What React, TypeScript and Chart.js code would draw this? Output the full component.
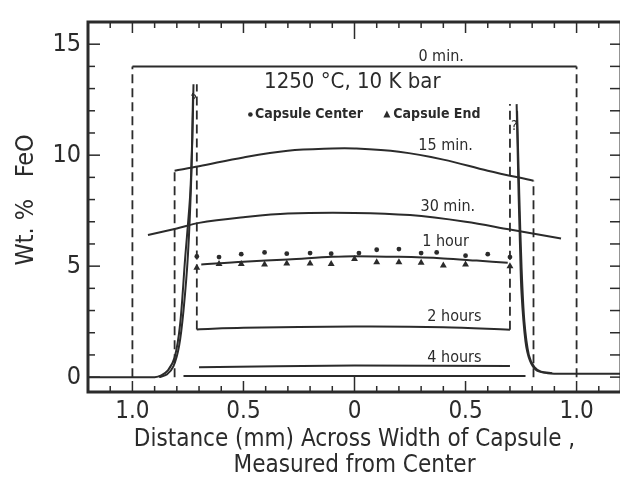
import React, { useEffect, useRef } from "react";
import { Chart, registerables } from "chart.js";

Chart.register(...registerables);

const FONT = '"Liberation Sans Narrow", "DejaVu Sans Condensed", "Liberation Sans", sans-serif';
const INK = "#2b2b2b";

// ---- axis ticks ----
const xTickValues = [-1, -0.5, 0, 0.5, 1];
const xTickLabels = ["1.0", "0.5", "0", "0.5", "1.0"];
const yTickValues = [0, 5, 10, 15];
const yTickLabels = ["0", "5", "10", "15"];

// ---- profiles (distance mm, wt.% FeO) ----
const zeroMinX = [-1, 1];
const zeroMinY = [14, 14];
const zeroMinEdgeX = [-1, 1];
const zeroMinEdgeTop = [14, 14];

const min15X = [-0.81, -0.7, -0.5, -0.3, -0.1, 0, 0.2, 0.4, 0.6, 0.806];
const min15Y = [9.3, 9.5, 9.9, 10.2, 10.3, 10.3, 10.15, 9.8, 9.3, 8.85];

const min30X = [-0.93, -0.8, -0.7, -0.5, -0.3, 0, 0.25, 0.5, 0.7, 0.93];
const min30Y = [6.4, 6.7, 6.95, 7.2, 7.37, 7.4, 7.3, 7.0, 6.65, 6.25];

const hour1X = [-0.69, -0.5, -0.3, -0.1, 0, 0.2, 0.4, 0.55, 0.69];
const hour1Y = [5.07, 5.2, 5.3, 5.42, 5.45, 5.42, 5.35, 5.25, 5.15];

const hour2X = [-0.71, -0.5, 0, 0.4, 0.7];
const hour2Y = [2.15, 2.22, 2.28, 2.25, 2.13];
const hour2EdgeX = [-0.71, 0.7];
const hour2EdgeTop = [13.2, 12.3];

const hour4X = [-0.7, 0, 0.7];
const hour4Y = [0.45, 0.52, 0.5];

const innerBaseX = [-0.77, 0.77];
const innerBaseY = [0.05, 0.05];

const leftSpikeX = [-1.2, -0.9, -0.87, -0.84, -0.81, -0.785, -0.763, -0.74, -0.73, -0.725];
const leftSpikeY = [0, 0, 0.08, 0.3, 0.88, 2.4, 5.3, 8.2, 10.8, 13.2];
const leftSpike2X = [-0.88, -0.845, -0.815, -0.79, -0.77, -0.75, -0.735, -0.727];
const leftSpike2Y = [0, 0.12, 0.5, 1.4, 3.0, 5.5, 9.0, 12.8];

const rightSpikeX = [0.73, 0.734, 0.739, 0.745, 0.752, 0.77, 0.79, 0.82, 0.87, 0.95, 1.2];
const rightSpikeY = [12.3, 10.5, 8.2, 6.0, 3.8, 1.6, 0.74, 0.3, 0.18, 0.15, 0.15];
const rightSpike2X = [0.732, 0.742, 0.752, 0.765, 0.785, 0.81, 0.84, 0.89];
const rightSpike2Y = [12.0, 8.2, 5.0, 2.5, 1.0, 0.45, 0.25, 0.18];

// ---- 1 hour measurements ----
const centerX = [-0.71, -0.61, -0.51, -0.405, -0.305, -0.2, -0.105, 0.02, 0.1, 0.2, 0.3, 0.37, 0.5, 0.6, 0.7];
const centerY = [5.44, 5.41, 5.54, 5.62, 5.56, 5.59, 5.56, 5.59, 5.74, 5.77, 5.59, 5.62, 5.47, 5.54, 5.41];
const endX = [-0.71, -0.61, -0.51, -0.405, -0.305, -0.2, -0.105, 0, 0.1, 0.2, 0.3, 0.4, 0.5, 0.7];
const endY = [4.93, 5.1, 5.1, 5.07, 5.12, 5.12, 5.1, 5.32, 5.18, 5.18, 5.15, 5.03, 5.07, 5.0];

// ---- text labels inside the plot ----
const labelTexts = ["1250 °C, 10 K bar", "0 min.", "15 min.", "30 min.", "1 hour", "2 hours", "4 hours", "?", "?"];
const labelX = [-0.01, 0.39, 0.41, 0.42, 0.41, 0.45, 0.45, -0.725, 0.72];
const labelY = [13.3, 14.45, 10.44, 7.65, 6.1, 2.72, 0.87, 12.45, 11.3];
const labelSize = [22, 16, 16, 16, 16, 16, 16, 14, 14];

const legendNames = ["Capsule Center", "Capsule End"];
const legendX = [-0.48, 0.13];
const legendY = [11.83, 11.83];

const pts = (xs: number[], ys: number[]) => xs.map((x, i) => ({ x, y: ys[i] }));

const solid = (xs: number[], ys: number[], tension = 0.35) => ({
  data: pts(xs, ys),
  showLine: true,
  borderColor: INK,
  borderWidth: 2,
  pointRadius: 0,
  tension,
  fill: false,
});

const dashedVerticals = (xs: number[], bottoms: number[], tops: number[]) =>
  xs.map((x, i) => ({
    data: [
      { x, y: bottoms[i] },
      { x, y: tops[i] },
    ],
    showLine: true,
    borderColor: INK,
    borderWidth: 1.8,
    borderDash: [9, 5],
    pointRadius: 0,
    tension: 0,
    fill: false,
  }));

const framePlugin = {
  id: "frame",
  afterDraw(chart: any) {
    const { ctx, chartArea: a, scales } = chart;
    const xs = scales.x;
    const ys = scales.y;
    ctx.save();
    ctx.strokeStyle = INK;
    ctx.lineCap = "butt";
    ctx.lineWidth = 3;
    ctx.beginPath();
    ctx.moveTo(a.left, a.bottom);
    ctx.lineTo(a.left, a.top);
    ctx.lineTo(a.right, a.top);
    ctx.lineTo(a.right, a.bottom);
    ctx.closePath();
    ctx.stroke();
    ctx.lineWidth = 1.5;
    const seg = (x1: number, y1: number, x2: number, y2: number) => {
      ctx.beginPath();
      ctx.moveTo(x1, y1);
      ctx.lineTo(x2, y2);
      ctx.stroke();
    };
    for (let i = -12; i <= 12; i++) {
      const px = xs.getPixelForValue(i / 10);
      const len = i === 0 ? 17 : i % 5 === 0 ? 11 : 6;
      seg(px, a.top, px, a.top + len);
      seg(px, a.bottom, px, a.bottom - len);
    }
    for (let v = 0; v <= 16; v++) {
      const py = ys.getPixelForValue(v);
      const len = v % 5 === 0 ? 12 : 7;
      seg(a.left, py, a.left + len, py);
      seg(a.right, py, a.right - 11, py);
    }
    ctx.restore();
  },
};

const textPlugin = {
  id: "texts",
  afterDatasetsDraw(chart: any) {
    const { ctx, scales } = chart;
    const xs = scales.x;
    const ys = scales.y;
    ctx.save();
    ctx.fillStyle = INK;
    ctx.textAlign = "center";
    ctx.textBaseline = "middle";
    labelTexts.forEach((t, i) => {
      ctx.font = `${labelSize[i]}px ${FONT}`;
      ctx.fillText(t, xs.getPixelForValue(labelX[i]), ys.getPixelForValue(labelY[i]));
    });
    ctx.font = `bold 14px ${FONT}`;
    ctx.textAlign = "left";
    legendNames.forEach((name, i) => {
      const px = xs.getPixelForValue(legendX[i]);
      const py = ys.getPixelForValue(legendY[i]);
      ctx.beginPath();
      if (i === 0) {
        ctx.arc(px + 2.5, py, 2.3, 0, Math.PI * 2);
      } else {
        ctx.moveTo(px + 3.5, py - 4);
        ctx.lineTo(px + 7, py + 3);
        ctx.lineTo(px, py + 3);
        ctx.closePath();
      }
      ctx.fill();
      ctx.fillText(name, px + (i === 0 ? 7 : 10), py);
    });
    ctx.restore();
  },
};

export default function App() {
  const ref = useRef<HTMLCanvasElement>(null);
  useEffect(() => {
    if (!ref.current) return;
    const datasets: any[] = [
      solid(zeroMinX, zeroMinY, 0),
      ...dashedVerticals(zeroMinEdgeX, [0, 0], zeroMinEdgeTop),
      solid(min15X, min15Y),
      ...dashedVerticals([min15X[0], min15X[min15X.length - 1]], [0, 0], [min15Y[0], min15Y[min15Y.length - 1]]),
      solid(min30X, min30Y),
      solid(hour1X, hour1Y),
      solid(hour2X, hour2Y),
      ...dashedVerticals(hour2EdgeX, [hour2Y[0], hour2Y[hour2Y.length - 1]], hour2EdgeTop),
      solid(hour4X, hour4Y),
      solid(innerBaseX, innerBaseY, 0),
      solid(leftSpikeX, leftSpikeY, 0.3),
      solid(leftSpike2X, leftSpike2Y, 0.3),
      solid(rightSpikeX, rightSpikeY, 0.3),
      solid(rightSpike2X, rightSpike2Y, 0.3),
      {
        label: legendNames[0],
        data: pts(centerX, centerY),
        showLine: false,
        pointStyle: "circle",
        pointRadius: 2.4,
        backgroundColor: INK,
        borderColor: INK,
        borderWidth: 0,
      },
      {
        label: legendNames[1],
        data: pts(endX, endY),
        showLine: false,
        pointStyle: "triangle",
        pointRadius: 4,
        backgroundColor: INK,
        borderColor: INK,
        borderWidth: 0,
      },
    ];
    const chart = new Chart(ref.current, {
      type: "scatter",
      data: { datasets },
      plugins: [framePlugin, textPlugin],
      options: {
        animation: false,
        responsive: false,
        devicePixelRatio: 1,
        layout: { padding: { top: 13, right: 9, left: 0, bottom: 0 } },
        plugins: { legend: { display: false }, tooltip: { enabled: false } },
        scales: {
          x: {
            type: "linear",
            min: -1.2,
            max: 1.2,
            afterFit: (s: any) => {
              s.height = 91;
            },
            afterBuildTicks: (s: any) => {
              s.ticks = xTickValues.map((v) => ({ value: v }));
            },
            grid: { display: false, drawTicks: false },
            border: { display: false },
            ticks: {
              autoSkip: false,
              maxRotation: 0,
              padding: 5,
              color: INK,
              font: { family: FONT, size: 24 },
              callback: (_v: any, i: number) => xTickLabels[i],
            },
            title: {
              display: true,
              text: ["Distance (mm) Across Width of Capsule ,", "Measured from Center"],
              color: INK,
              font: { family: FONT, size: 24, lineHeight: 1.1 },
              padding: { top: 0, bottom: 4 },
            },
          },
          y: {
            type: "linear",
            min: -0.67,
            max: 16.0,
            afterFit: (s: any) => {
              s.width = 88;
            },
            afterBuildTicks: (s: any) => {
              s.ticks = yTickValues.map((v) => ({ value: v }));
            },
            grid: { display: false, drawTicks: false },
            border: { display: false },
            ticks: {
              padding: 7,
              color: INK,
              font: { family: FONT, size: 25 },
              callback: (_v: any, i: number) => yTickLabels[i],
            },
            title: {
              display: true,
              text: "  Wt. %   FeO",
              color: INK,
              font: { family: FONT, size: 25 },
              padding: { top: 11, bottom: 0 },
            },
          },
        },
      },
    });
    return () => chart.destroy();
  }, []);
  return (
    <div style={{ position: "fixed", left: 0, top: 0, width: 620, height: 483, overflow: "hidden", background: "#fff" }}>
      <canvas ref={ref} width={630} height={483} style={{ width: 630, height: 483, display: "block" }} />
    </div>
  );
}
